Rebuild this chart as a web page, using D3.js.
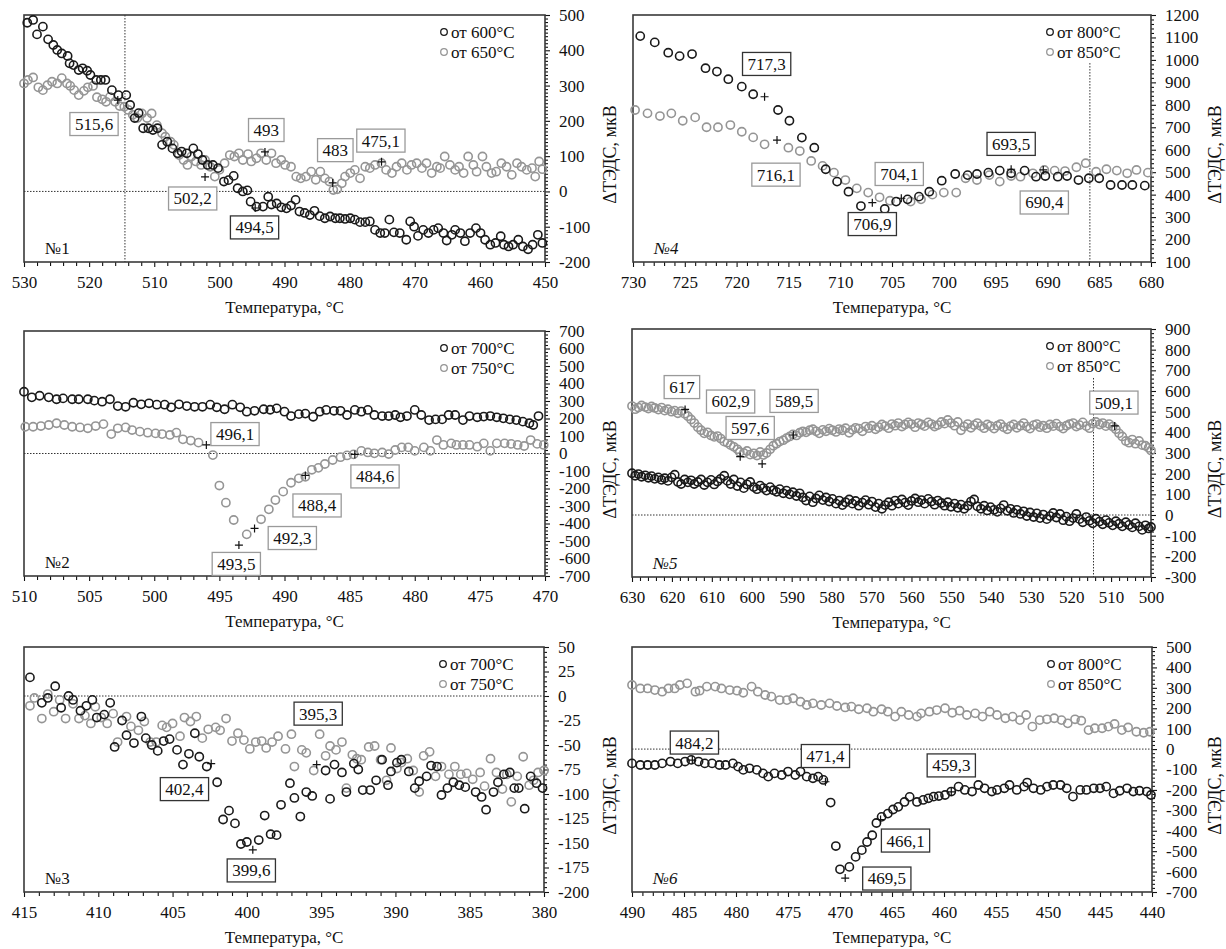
<!DOCTYPE html>
<html><head><meta charset="utf-8">
<script src="https://cdn.jsdelivr.net/npm/d3@7"></script>
<style>
body{margin:0;background:#fff;}
svg text{font-family:"Liberation Serif","DejaVu Serif",serif;}
</style></head><body>
<svg id="c" width="1226" height="949"></svg>
<script>
// ===================== DATA =====================
// Panel 1
const p1_names = ["от 600°C", "от 650°C"];
const p1_xticks = [530,520,510,500,490,480,470,460,450];
const p1_yticks = [-200,-100,0,100,200,300,400,500];
const p1_600 = [[529.5,478],[528.6,486],[528.0,445],[527.1,467],[526.3,431],[525.5,415],[524.9,401],[524.2,391],[523.3,384],[523.0,363],[522.4,358],[521.6,344],[521.0,349],[520.3,342],[519.8,330],[518.9,316],[518.2,316],[517.5,316],[516.5,287],[515.5,273],[514.3,273],[513.7,245],[513.0,208],[512.4,222],[511.7,179],[510.9,179],[510.2,174],[509.5,179],[508.8,132],[508.0,141],[507.2,122],[506.4,108],[505.8,113],[505.0,108],[504.0,122],[503.3,106],[502.6,89],[501.8,75],[501.0,75],[500.2,66],[499.3,28],[498.6,32],[497.8,44],[497.2,9],[496.4,0],[495.7,3],[495.2,-29],[494.3,-43],[493.3,-43],[492.5,-15],[492.0,-37],[491.2,-34],[490.5,-45],[489.7,-48],[489.0,-40],[488.3,-24],[487.7,-57],[486.9,-61],[486.1,-67],[485.4,-55],[484.6,-70],[483.8,-76],[483.0,-71],[482.2,-76],[481.5,-76],[480.7,-78],[479.9,-76],[479.2,-80],[478.4,-87],[477.6,-87],[476.9,-85],[476.1,-109],[475.3,-118],[474.6,-118],[473.9,-80],[473.2,-116],[472.3,-118],[471.3,-137],[470.7,-85],[470.1,-100],[469.5,-126],[468.7,-109],[467.9,-118],[467.1,-109],[466.4,-104],[465.6,-118],[465.1,-139],[464.3,-123],[463.8,-109],[463.0,-118],[462.3,-141],[461.5,-118],[460.6,-104],[459.9,-118],[459.2,-137],[458.4,-151],[457.6,-146],[456.8,-127],[456.3,-151],[455.6,-156],[454.9,-151],[454.1,-137],[453.4,-156],[452.6,-164],[451.9,-151],[451.1,-123],[450.4,-146]];
const p1_650 = [[530.0,306],[529.4,316],[528.6,323],[527.8,295],[527.1,287],[526.4,301],[525.7,311],[524.9,306],[524.2,321],[523.4,306],[522.9,299],[522.3,287],[521.6,273],[520.8,285],[520.2,295],[519.4,299],[518.8,267],[518.0,261],[517.4,254],[516.8,268],[516.0,254],[515.3,242],[514.6,240],[514.0,231],[513.3,217],[512.6,208],[511.9,221],[511.1,208],[510.4,221],[509.6,188],[508.8,165],[508.3,155],[507.5,141],[507.0,132],[506.2,103],[505.5,89],[504.9,75],[504.3,99],[503.6,85],[502.8,75],[502.2,89],[501.4,70],[500.7,42],[500.0,61],[499.2,80],[498.4,103],[497.7,99],[497.0,108],[496.4,89],[495.6,106],[495.1,85],[494.3,94],[493.6,108],[492.8,89],[492.0,108],[491.3,80],[490.5,89],[489.9,75],[489.0,70],[488.2,42],[487.5,37],[486.7,42],[485.9,56],[485.2,33],[484.5,56],[483.8,37],[483.1,28],[482.5,4],[481.9,6],[481.2,23],[480.7,42],[479.9,52],[479.2,61],[478.4,37],[477.6,70],[476.9,66],[476.1,75],[475.1,80],[474.4,61],[473.5,52],[472.8,70],[472.0,80],[471.2,61],[470.5,75],[469.7,80],[468.9,66],[468.2,80],[467.4,52],[466.6,70],[466.1,66],[465.4,99],[464.6,75],[463.8,61],[463.2,70],[462.5,52],[461.8,99],[461.0,75],[460.5,56],[459.6,99],[459.0,70],[458.2,52],[457.5,56],[456.7,80],[455.9,70],[455.1,47],[454.3,80],[453.6,70],[452.8,61],[452.0,66],[451.5,42],[450.9,85],[450.4,63]];
// [label, T, value, series(0 black / 1 gray)]
const p1_notes = [["515,6",515.6,259,1],["502,2",502.2,41,1],["494,5",494.5,-47,0],["493",493.0,112,1],["483",482.6,24,1],["475,1",475.1,84,1]];

// Panel 2
const p2_names = ["от 700°C", "от 750°C"];
const p2_xticks = [510,505,500,495,490,485,480,475,470];
const p2_yticks = [-700,-600,-500,-400,-300,-200,-100,0,100,200,300,400,500,600,700];
const p2_700 = [[510.0,353],[509.4,321],[508.8,330],[508.1,321],[507.5,310],[507.0,315],[506.3,310],[505.8,310],[505.1,310],[504.6,302],[504.0,296],[503.4,310],[502.8,271],[502.2,267],[501.6,290],[501.0,281],[500.4,287],[499.8,279],[499.2,279],[498.7,264],[498.1,281],[497.5,271],[496.9,267],[496.3,267],[495.7,279],[495.2,264],[494.6,253],[494.0,279],[493.4,264],[492.9,239],[492.3,244],[491.6,253],[491.1,250],[490.6,258],[490.0,239],[489.5,214],[488.9,225],[488.4,228],[487.8,210],[487.3,239],[486.8,249],[486.2,244],[485.7,244],[485.2,220],[484.6,249],[484.1,239],[483.6,249],[483.1,220],[482.5,214],[482.0,214],[481.5,220],[481.1,207],[480.6,214],[480.0,249],[479.5,220],[478.9,191],[478.4,195],[477.9,195],[477.4,220],[476.9,220],[476.3,191],[475.8,214],[475.2,207],[474.7,211],[474.2,214],[473.7,207],[473.2,201],[472.7,195],[472.2,191],[471.7,182],[471.2,173],[470.9,163],[470.5,214]];
const p2_750 = [[509.9,153],[509.3,153],[508.7,157],[508.1,163],[507.5,173],[506.9,163],[506.3,153],[505.7,149],[505.1,144],[504.5,157],[503.9,168],[503.3,111],[502.8,144],[502.2,149],[501.7,134],[501.1,125],[500.5,119],[499.9,115],[499.4,111],[498.8,106],[498.3,119],[497.8,81],[497.2,74],[496.6,62],[495.5,-9],[495.0,-183],[494.5,-281],[493.9,-380],[492.9,-462],[491.8,-376],[491.2,-319],[490.7,-266],[490.1,-218],[489.5,-167],[488.9,-142],[488.4,-133],[487.9,-93],[487.4,-82],[486.9,-60],[486.3,-37],[485.7,-21],[485.2,-11],[484.7,-5],[484.1,15],[483.6,6],[483.1,1],[482.5,6],[482.0,-3],[481.5,20],[481.0,35],[480.5,35],[480.0,15],[479.3,35],[478.8,15],[478.3,77],[477.8,49],[477.2,58],[476.8,49],[476.3,49],[475.8,49],[475.2,39],[474.7,58],[474.2,15],[473.7,58],[473.1,58],[472.6,55],[472.1,49],[471.6,43],[471.1,77],[470.6,55],[470.1,49]];
const p2_notes = [["496,1",496.0,49,1],["493,5",493.5,-523,1],["492,3",492.3,-428,1],["488,4",488.4,-125,1],["484,6",484.6,-5,1]];

// Panel 3
const p3_names = ["от 700°C", "от 750°C"];
const p3_xticks = [415,410,405,400,395,390,385,380];
const p3_yticks = [-200,-175,-150,-125,-100,-75,-50,-25,0,25,50];
const p3_700 = [[414.6,19],[413.8,-7],[413.4,-2],[412.9,10],[412.5,-12],[412.0,0],[411.7,-4],[411.2,-15],[410.8,-10],[410.4,-4],[410.1,-22],[409.6,-19],[409.2,-7],[408.9,-52],[408.4,-25],[408.1,-40],[407.6,-48],[407.1,-21],[406.8,-43],[406.4,-50],[406.0,-56],[405.6,-46],[405.2,-44],[404.7,-55],[404.3,-70],[403.9,-59],[403.5,-38],[403.2,-62],[402.7,-72],[402.0,-88],[401.6,-126],[401.2,-117],[400.8,-130],[400.4,-151],[400.0,-149],[399.2,-147],[398.8,-122],[398.4,-141],[398.0,-142],[397.7,-111],[397.1,-89],[396.8,-104],[396.4,-123],[396.0,-98],[395.6,-102],[394.7,-76],[394.4,-105],[394.1,-70],[393.6,-78],[393.3,-98],[392.8,-69],[392.5,-75],[392.2,-96],[391.7,-96],[391.3,-86],[390.9,-65],[390.5,-91],[390.3,-77],[389.9,-68],[389.6,-65],[389.1,-77],[388.7,-94],[388.4,-87],[387.9,-82],[387.6,-71],[387.2,-72],[386.9,-101],[386.5,-94],[386.1,-88],[385.7,-91],[385.3,-93],[384.6,-98],[384.2,-103],[383.9,-116],[383.4,-98],[383.1,-88],[382.7,-80],[382.3,-78],[382.0,-94],[381.7,-94],[381.3,-115],[380.9,-82],[380.5,-89],[380.1,-94]];
const p3_750 = [[414.6,-10],[414.3,-2],[413.8,-23],[413.4,2],[413.0,-16],[412.6,-4],[412.2,-23],[411.7,-8],[411.3,-23],[410.9,-20],[410.5,-28],[410.2,-11],[409.8,-22],[409.4,-28],[409.0,-18],[408.7,-47],[408.1,-21],[407.8,-31],[407.3,-35],[406.9,-26],[406.5,-47],[406.1,-47],[405.7,-30],[405.4,-32],[405.0,-28],[404.5,-41],[404.2,-22],[403.8,-26],[403.4,-21],[403.0,-43],[402.6,-34],[402.1,-32],[401.8,-35],[401.4,-23],[401.0,-46],[400.6,-38],[400.2,-45],[399.8,-54],[399.4,-47],[399.0,-46],[398.7,-53],[398.3,-47],[397.9,-41],[397.4,-54],[397.0,-39],[396.8,-72],[396.3,-55],[396.0,-58],[395.5,-76],[395.1,-39],[394.7,-61],[394.4,-51],[394.0,-55],[393.6,-47],[393.3,-94],[392.9,-60],[392.6,-64],[392.3,-65],[391.8,-52],[391.4,-51],[391.0,-65],[390.6,-86],[390.3,-53],[389.9,-74],[389.6,-68],[389.2,-64],[388.8,-76],[388.4,-98],[388.1,-61],[387.7,-57],[387.3,-82],[386.9,-72],[386.4,-80],[386.0,-72],[385.6,-80],[385.2,-79],[384.8,-85],[384.3,-78],[384.0,-92],[383.6,-64],[383.2,-78],[382.8,-95],[382.5,-80],[382.2,-108],[381.8,-82],[381.4,-62],[381.0,-91],[380.7,-86],[380.4,-78],[380.0,-76]];
const p3_notes = [["402,4",402.4,-69,0],["399,6",399.6,-157,0],["395,3",395.3,-70,0]];

// Panel 4
const p4_names = ["от 800°C", "от 850°C"];
const p4_xticks = [730,725,720,715,710,705,700,695,690,685,680];
const p4_yticks = [100,200,300,400,500,600,700,800,900,1000,1100,1200];
const p4_800 = [[729.3,1106],[727.9,1078],[726.6,1032],[725.5,1017],[724.3,1026],[723.0,963],[721.9,948],[720.8,914],[719.5,881],[718.4,847],[716.0,777],[714.9,729],[713.7,654],[712.5,609],[711.4,513],[710.3,458],[709.2,413],[708.0,349],[705.7,336],[704.6,369],[703.5,379],[702.4,391],[701.4,413],[700.2,462],[698.9,492],[697.7,487],[696.8,492],[695.7,498],[694.6,507],[693.5,495],[692.2,507],[691.1,480],[690.2,483],[689.0,480],[688.1,483],[687.0,465],[686.0,473],[685.0,473],[683.9,443],[682.8,443],[681.8,443],[680.6,440]];
const p4_850 = [[729.8,777],[728.6,762],[727.4,750],[726.3,762],[725.2,729],[724.0,744],[722.9,700],[721.8,700],[720.6,710],[719.5,680],[718.4,655],[717.3,624],[715.0,609],[713.9,594],[712.8,550],[711.7,528],[710.6,498],[709.5,465],[708.4,428],[707.3,409],[706.2,388],[705.2,373],[703.2,369],[702.2,379],[701.1,400],[700.0,409],[698.8,409],[697.9,473],[696.8,465],[695.6,487],[694.6,458],[693.5,483],[692.6,480],[691.4,495],[690.3,510],[689.3,507],[688.3,505],[687.2,522],[686.3,540],[685.3,502],[684.3,513],[683.3,507],[682.3,495],[681.4,510],[680.3,498]];
const p4_notes = [["717,3",717.3,836,0],["716,1",716.1,643,1],["706,9",706.9,364,0],["704,1",704.1,384,1],["693,5",693.5,513,0],["690,4",690.4,510,1]];

// Panel 5
const p5_names = ["от 800°C", "от 850°C"];
const p5_xticks = [630,620,610,600,590,580,570,560,550,540,530,520,510,500];
const p5_yticks = [-300,-200,-100,0,100,200,300,400,500,600,700,800,900];
const p5_800 = [[630.0,202],[629.2,190],[628.4,198],[627.6,185],[626.7,192],[625.9,180],[625.1,188],[624.3,175],[623.4,182],[622.6,170],[621.8,178],[621.0,165],[620.1,182],[619.3,195],[618.5,160],[617.7,150],[616.8,172],[616.0,158],[615.2,168],[614.4,150],[613.5,160],[612.7,172],[611.9,145],[611.1,158],[610.2,170],[609.4,148],[608.6,162],[607.8,175],[606.9,190],[606.1,165],[605.3,150],[604.5,172],[603.6,140],[602.8,158],[602.0,130],[601.2,148],[600.4,160],[599.5,135],[598.7,125],[597.9,142],[597.1,130],[596.3,118],[595.4,135],[594.6,120],[593.8,112],[593.0,125],[592.1,105],[591.3,118],[590.5,100],[589.7,110],[588.8,92],[588.0,105],[587.2,85],[586.4,70],[585.5,90],[584.7,62],[583.9,80],[583.1,95],[582.2,72],[581.4,85],[580.6,65],[579.8,78],[578.9,55],[578.1,70],[577.3,48],[576.5,62],[575.6,75],[574.8,55],[574.0,68],[573.2,45],[572.3,60],[571.5,72],[570.7,50],[569.9,65],[569.0,38],[568.2,55],[567.4,30],[566.6,48],[565.7,62],[564.9,45],[564.1,70],[563.3,55],[562.4,75],[561.6,60],[560.8,48],[560.0,68],[559.1,80],[558.3,62],[557.5,72],[556.7,55],[555.8,78],[555.0,65],[554.2,50],[553.4,70],[552.5,58],[551.7,45],[550.9,62],[550.1,40],[549.2,55],[548.4,35],[547.6,50],[546.8,30],[545.9,45],[545.1,65],[544.3,75],[543.5,42],[542.6,30],[541.8,45],[541.0,22],[540.2,38],[539.3,25],[538.5,15],[537.7,32],[536.9,48],[536.0,20],[535.2,30],[534.4,10],[533.6,25],[532.7,5],[531.9,18],[531.1,-5],[530.3,12],[529.4,-10],[528.6,8],[527.8,-15],[527.0,2],[526.1,-20],[525.3,-5],[524.5,10],[523.7,-12],[522.8,5],[522.0,-25],[521.2,-8],[520.4,-30],[519.5,-15],[518.7,5],[517.9,-20],[517.1,-35],[516.2,-10],[515.4,-28],[514.6,-40],[513.8,-18],[512.9,-32],[512.1,-45],[511.3,-25],[510.5,-38],[509.6,-50],[508.8,-30],[508.0,-42],[507.2,-55],[506.3,-35],[505.5,-48],[504.7,-60],[503.9,-40],[503.0,-55],[502.2,-72],[501.4,-50],[500.6,-65],[500.0,-58]];
const p5_850 = [[630.0,527],[629.2,512],[628.4,520],[627.6,530],[626.7,522],[625.9,515],[625.1,525],[624.3,518],[623.4,510],[622.6,520],[621.8,505],[621.0,512],[620.1,500],[619.3,505],[618.5,492],[617.7,503],[616.8,490],[616.0,478],[615.2,462],[614.4,445],[613.5,425],[612.7,410],[611.9,395],[611.1,400],[610.2,385],[609.4,378],[608.6,382],[607.8,370],[606.9,355],[606.1,350],[605.3,338],[604.5,330],[603.6,318],[603.0,305],[602.0,300],[601.2,310],[600.4,292],[599.5,298],[598.7,288],[597.9,305],[597.1,290],[596.3,300],[595.4,318],[594.6,335],[593.8,345],[593.0,355],[592.1,362],[591.3,372],[590.5,380],[589.7,390],[588.8,385],[588.0,398],[587.2,405],[586.4,400],[585.5,410],[584.7,415],[583.9,405],[583.1,395],[582.2,412],[581.4,405],[580.6,418],[579.8,410],[578.9,402],[578.1,416],[577.3,410],[576.5,420],[575.6,398],[574.8,412],[574.0,422],[573.2,418],[572.3,405],[571.5,428],[570.7,420],[569.9,432],[569.0,415],[568.2,425],[567.4,438],[566.6,430],[565.7,420],[564.9,440],[564.1,432],[563.3,445],[562.4,428],[561.6,438],[560.8,448],[560.0,440],[559.1,425],[558.3,445],[557.5,438],[556.7,430],[555.8,448],[555.0,440],[554.2,428],[553.4,435],[552.5,450],[551.7,442],[550.9,460],[550.1,445],[549.2,432],[548.4,450],[547.6,410],[546.8,428],[545.9,440],[545.1,422],[544.3,435],[543.5,445],[542.6,430],[541.8,420],[541.0,438],[540.2,430],[539.3,418],[538.5,432],[537.7,440],[536.9,425],[536.0,415],[535.2,430],[534.4,438],[533.6,422],[532.7,432],[531.9,445],[531.1,428],[530.3,418],[529.4,435],[528.6,440],[527.8,425],[527.0,432],[526.1,420],[525.3,438],[524.5,430],[523.7,442],[522.8,428],[522.0,418],[521.2,432],[520.4,440],[519.5,445],[518.7,428],[517.9,435],[517.1,448],[516.2,430],[515.4,420],[514.6,442],[513.8,450],[512.9,438],[512.1,445],[511.3,430],[510.5,440],[509.6,428],[508.8,415],[508.0,395],[507.2,380],[506.3,358],[505.5,350],[504.7,365],[503.9,345],[503.0,358],[502.2,338],[501.4,335],[500.6,325],[500.0,312]];
const p5_notes = [["617",616.7,511,1],["602,9",602.9,282,1],["597,6",597.4,247,1],["589,5",589.6,387,1],["509,1",509.1,431,1]];

// Panel 6
const p6_names = ["от 800°C", "от 850°C"];
const p6_xticks = [490,485,480,475,470,465,460,455,450,445,440];
const p6_yticks = [-700,-600,-500,-400,-300,-200,-100,0,100,200,300,400,500];
const p6_800 = [[490.0,-70],[489.2,-78],[488.5,-78],[487.8,-78],[487.1,-70],[486.3,-61],[485.6,-70],[484.9,-61],[484.3,-53],[483.6,-61],[483.0,-70],[482.3,-70],[481.6,-78],[481.0,-78],[480.3,-70],[479.8,-86],[479.3,-102],[478.7,-94],[478.0,-102],[477.4,-119],[476.9,-135],[476.3,-119],[475.6,-127],[475.0,-110],[474.3,-127],[473.8,-110],[473.2,-135],[472.6,-143],[472.1,-135],[471.6,-151],[470.9,-262],[470.4,-475],[470.0,-589],[469.1,-577],[468.5,-528],[467.9,-495],[467.4,-455],[466.9,-422],[466.5,-362],[466.0,-332],[465.4,-316],[464.9,-296],[464.4,-283],[463.8,-259],[463.3,-234],[462.6,-259],[462.0,-249],[461.5,-241],[461.0,-233],[460.5,-230],[459.9,-225],[459.3,-208],[458.6,-184],[458.0,-200],[457.3,-208],[456.7,-176],[456.1,-192],[455.4,-208],[454.9,-200],[454.2,-192],[453.7,-176],[453.0,-200],[452.3,-184],[452.0,-164],[451.4,-192],[450.7,-200],[450.1,-184],[449.5,-176],[448.8,-176],[448.2,-192],[447.6,-233],[446.9,-200],[446.3,-200],[445.6,-192],[445.0,-192],[444.4,-184],[443.7,-217],[443.1,-204],[442.4,-192],[441.8,-208],[441.2,-204],[440.5,-208],[440.1,-225]];
const p6_850 = [[490.0,314],[489.2,297],[488.5,297],[487.8,289],[487.1,281],[486.5,297],[485.9,297],[485.4,314],[484.7,322],[483.9,281],[483.5,286],[482.8,306],[482.0,306],[481.4,297],[480.6,289],[479.9,286],[479.3,276],[478.5,306],[477.9,281],[477.2,265],[476.6,257],[475.8,240],[475.1,240],[474.5,249],[473.8,232],[473.2,216],[472.6,224],[471.8,216],[471.0,224],[470.3,211],[469.5,204],[468.9,208],[468.2,195],[467.4,200],[466.8,183],[466.0,195],[465.4,183],[464.7,159],[464.1,183],[463.4,167],[462.6,159],[462.2,175],[461.4,183],[460.7,191],[459.9,200],[459.2,178],[458.5,188],[457.8,167],[457.0,175],[456.3,159],[455.6,183],[454.9,167],[454.1,151],[453.4,159],[452.7,142],[452.1,167],[451.5,110],[450.8,142],[450.1,146],[449.4,151],[448.7,142],[448.1,126],[447.4,146],[446.8,139],[446.1,93],[445.5,102],[444.8,102],[444.2,110],[443.6,123],[442.9,93],[442.3,106],[441.5,85],[440.8,80],[440.2,85]];
const p6_notes = [["484,2",484.2,-54,0],["471,4",471.4,-160,0],["469,5",469.5,-632,0],["466,1",466.1,-345,0],["459,3",459.3,-210,0]];

const xTitle = "Температура, °C";
const yTitle = "ΔТЭДС, мкВ";

// ===================== LAYOUT =====================
const FONT = "Liberation Serif, DejaVu Serif, serif";
const COLORS = ["#1a1a1a", "#959595"];
const panels = [
  {series:[p1_600,p1_650], names:p1_names, notes:p1_notes, boxes:[[519.25,191],[504.1,-20],[494.6,-102],[492.8,174],[482.2,117],[475.2,144]],
   l:24,r:545,t:15,b:262, xDom:[530,450], yDom:[-200,500], xTicks:p1_xticks, yTicks:p1_yticks, xMinor:2, yMinor:10, num:"№1", italic:false, zero:true, vline:[514.5,500]},
  {series:[p4_800,p4_850], names:p4_names, notes:p4_notes, boxes:[[717.1,982],[716.2,489],[706.9,269],[704.3,492],[693.5,626],[690.3,365]],
   l:633,r:1151,t:15,b:262, xDom:[730,680], yDom:[100,1200], xTicks:p4_xticks, yTicks:p4_yticks, xMinor:1, yMinor:20, num:"№4", italic:true, zero:false, vline:[685.9,986]},
  {series:[p2_700,p2_750], names:p2_names, notes:p2_notes, boxes:[[493.8,111],[493.7,-631],[489.4,-483],[487.5,-297],[483.05,-131]],
   l:24,r:545,t:331,b:576, xDom:[510,470], yDom:[-700,700], xTicks:p2_xticks, yTicks:p2_yticks, xMinor:1, yMinor:20, num:"№2", italic:false, zero:true, vline:null},
  {series:[p5_800,p5_850], names:p5_names, notes:p5_notes, boxes:[[617.5,619],[605.3,549],[600.4,421],[589.4,552],[509.3,544]],
   l:632,r:1151,t:329,b:577, xDom:[630,500], yDom:[-300,900], xTicks:p5_xticks, yTicks:p5_yticks, xMinor:2, yMinor:20, num:"№5", italic:true, zero:true, vline:[514.4,663]},
  {series:[p3_700,p3_750], names:p3_names, notes:p3_notes, boxes:[[404.2,-95],[399.7,-178],[395.2,-18]],
   l:24,r:544,t:647,b:892, xDom:[415,380], yDom:[-200,50], xTicks:p3_xticks, yTicks:p3_yticks, xMinor:1, yMinor:5, num:"№3", italic:false, zero:true, vline:null},
  {series:[p6_800,p6_850], names:p6_names, notes:p6_notes, boxes:[[484.0,32],[471.4,-34],[465.5,-634],[463.7,-448],[459.3,-80]],
   l:632,r:1152,t:647,b:892, xDom:[490,440], yDom:[-700,500], xTicks:p6_xticks, yTicks:p6_yticks, xMinor:1, yMinor:20, num:"№6", italic:true, zero:true, vline:null}
];

const svg = d3.select("#c");

function minorVals(dom, step, majors) {
  const lo = Math.min(dom[0], dom[1]), hi = Math.max(dom[0], dom[1]);
  const n = Math.round((hi - lo) / step);
  const out = [];
  for (let i = 0; i <= n; i++) {
    const v = +(lo + i * step).toFixed(6);
    if (!majors.some(m => Math.abs(m - v) < 1e-6)) out.push(v);
  }
  return out;
}

function styleAxis(g) {
  g.select(".domain").remove();
  g.attr("font-family", FONT).attr("font-size", 17);
  g.selectAll("line").attr("stroke", "#111").attr("stroke-width", 1.1);
  g.selectAll("text").attr("font-family", FONT).attr("font-size", 17).attr("fill", "#111");
}

panels.forEach(p => {
  const g = svg.append("g");
  const x = d3.scaleLinear().domain(p.xDom).range([p.l, p.r]);
  const y = d3.scaleLinear().domain(p.yDom).range([p.b, p.t]);

  // reference lines
  if (p.zero) {
    g.append("line").attr("x1", p.l).attr("x2", p.r).attr("y1", y(0)).attr("y2", y(0))
      .attr("stroke", "#333").attr("stroke-width", 1).attr("stroke-dasharray", "1.5,1.5");
  }
  if (p.vline) {
    g.append("line").attr("x1", x(p.vline[0])).attr("x2", x(p.vline[0])).attr("y1", y(p.vline[1])).attr("y2", p.b)
      .attr("stroke", "#333").attr("stroke-width", 1).attr("stroke-dasharray", "1.5,1.5");
  }

  // axes
  const gx = g.append("g").attr("transform", `translate(0,${p.b})`)
    .call(d3.axisBottom(x).tickValues(p.xTicks).tickSize(5).tickSizeOuter(0).tickPadding(9).tickFormat(d => String(d)));
  styleAxis(gx);
  const gxm = g.append("g").attr("transform", `translate(0,${p.b})`)
    .call(d3.axisBottom(x).tickValues(minorVals(p.xDom, p.xMinor, p.xTicks)).tickSize(4).tickSizeOuter(0).tickFormat(""));
  styleAxis(gxm);
  const gy = g.append("g").attr("transform", `translate(${p.r},0)`)
    .call(d3.axisRight(y).tickValues(p.yTicks).tickSize(5).tickSizeOuter(0).tickPadding(9).tickFormat(d => String(d)));
  styleAxis(gy);
  const gym = g.append("g").attr("transform", `translate(${p.r},0)`)
    .call(d3.axisRight(y).tickValues(minorVals(p.yDom, p.yMinor, p.yTicks)).tickSize(3).tickSizeOuter(0).tickFormat(""));
  styleAxis(gym);

  // frame
  g.append("rect").attr("x", p.l).attr("y", p.t).attr("width", p.r - p.l).attr("height", p.b - p.t)
    .attr("fill", "none").attr("stroke", "#3a3a3a").attr("stroke-width", 1.6);

  // points (gray first, black on top)
  [1, 0].forEach(si => {
    g.append("g").selectAll("circle").data(p.series[si]).join("circle")
      .attr("cx", d => x(d[0])).attr("cy", d => y(d[1])).attr("r", 4.1)
      .attr("fill", "none").attr("stroke", COLORS[si]).attr("stroke-width", 1.6);
  });

  // annotation plus markers
  g.append("g").selectAll("path").data(p.notes).join("path")
    .attr("d", d => { const cx = x(d[1]), cy = y(d[2]); return `M${cx-4},${cy}H${cx+4}M${cx},${cy-4}V${cy+4}`; })
    .attr("stroke", "#111").attr("stroke-width", 1.2);

  // annotation boxes
  p.notes.forEach((n, i) => {
    const bx = x(p.boxes[i][0]), by = y(p.boxes[i][1]);
    const ng = g.append("g");
    const rect = ng.append("rect");
    const t = ng.append("text").attr("x", bx).attr("y", by).attr("dy", "0.35em")
      .attr("text-anchor", "middle").attr("font-family", FONT).attr("font-size", 17).attr("fill", "#111").text(n[0]);
    const w = t.node().getComputedTextLength() + 10;
    rect.attr("x", bx - w / 2).attr("y", by - 11.5).attr("width", w).attr("height", 23)
      .attr("fill", "#fff").attr("stroke", n[3] === 0 ? "#333" : "#9a9a9a").attr("stroke-width", 1.3);
  });

  // legend
  p.names.forEach((nm, i) => {
    g.append("circle").attr("cx", p.r - 101).attr("cy", p.t + 17 + i * 20).attr("r", 3.3)
      .attr("fill", "none").attr("stroke", COLORS[i]).attr("stroke-width", 1.3);
    g.append("text").attr("x", p.r - 94).attr("y", p.t + 23 + i * 20)
      .attr("font-family", FONT).attr("font-size", 17).attr("fill", "#111").text(nm);
  });

  // panel number
  g.append("text").attr("x", p.l + 21).attr("y", p.b - 8).attr("font-family", FONT).attr("font-size", 17)
    .attr("font-style", p.italic ? "italic" : "normal").attr("fill", "#111").text(p.num);

  // x title
  g.append("text").attr("x", (p.l + p.r) / 2).attr("y", p.b + 51).attr("text-anchor", "middle")
    .attr("font-family", FONT).attr("font-size", 17).attr("fill", "#111").text(xTitle);

  // y title
  const yc = (p.t + p.b) / 2 + 16;
  const tx = p.l > 300 ? 1215 : 610;
  g.append("text").attr("transform", `translate(${tx},${yc}) rotate(-90)`).attr("text-anchor", "middle")
    .attr("dy", "0.35em").attr("font-family", FONT).attr("font-size", 18).attr("fill", "#111").text(yTitle);
});
</script>
</body></html>
